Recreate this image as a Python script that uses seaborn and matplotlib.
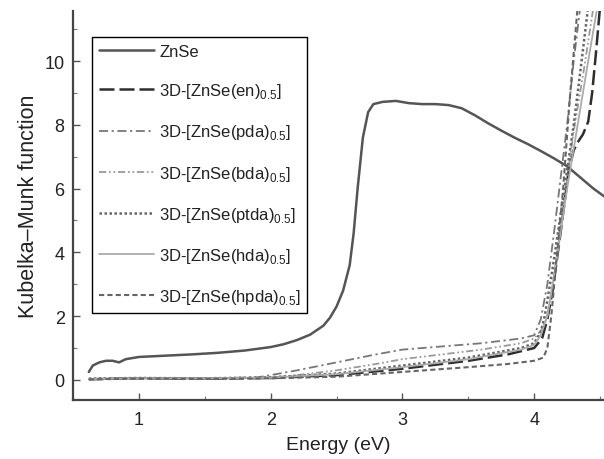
import numpy as np
import pandas as pd
import matplotlib
matplotlib.use("Agg")
import matplotlib.pyplot as plt
import seaborn as sns

# ---------------- data ----------------
znse_x = [0.62, 0.65, 0.70, 0.75, 0.80, 0.85, 0.90, 1.00, 1.20, 1.40, 1.60, 1.80, 2.00, 2.10,
          2.20, 2.30, 2.40, 2.45, 2.50, 2.55, 2.60, 2.63, 2.66, 2.70, 2.74, 2.78, 2.85, 2.95,
          3.05, 3.15, 3.25, 3.35, 3.45, 3.55, 3.65, 3.75, 3.85, 3.95, 4.05, 4.15, 4.25, 4.35,
          4.45, 4.55]
znse_y = [0.25, 0.45, 0.55, 0.60, 0.60, 0.55, 0.65, 0.72, 0.76, 0.80, 0.85, 0.92, 1.03, 1.12,
          1.25, 1.42, 1.70, 1.95, 2.30, 2.80, 3.60, 4.60, 6.00, 7.60, 8.40, 8.65, 8.72, 8.75,
          8.68, 8.65, 8.65, 8.62, 8.52, 8.30, 8.05, 7.82, 7.60, 7.40, 7.18, 6.95, 6.70, 6.35,
          6.00, 5.70]

en_x = [0.62, 1.00, 1.50, 2.00, 2.50, 3.00, 3.50, 3.80, 4.00, 4.06, 4.10, 4.14, 4.20, 4.26,
        4.30, 4.33, 4.37, 4.41, 4.44, 4.47, 4.50]
en_y = [0.02, 0.05, 0.04, 0.06, 0.15, 0.35, 0.60, 0.80, 1.00, 1.30, 1.90, 2.80, 4.60, 6.50,
        7.20, 7.45, 7.70, 8.10, 9.00, 10.3, 11.7]

pda_x = [0.62, 1.00, 1.50, 1.90, 2.00, 2.20, 2.50, 2.80, 3.00, 3.30, 3.60, 3.90, 4.00, 4.05,
         4.10, 4.15, 4.20, 4.25, 4.30, 4.35]
pda_y = [0.02, 0.06, 0.05, 0.08, 0.15, 0.30, 0.55, 0.80, 0.95, 1.05, 1.15, 1.30, 1.40, 1.90,
         3.00, 4.60, 6.30, 8.00, 10.0, 11.7]

bda_x = [0.62, 1.00, 1.50, 2.00, 2.20, 2.50, 2.80, 3.00, 3.30, 3.60, 3.90, 4.00, 4.06, 4.10,
         4.16, 4.24, 4.30, 4.38, 4.45]
bda_y = [0.03, 0.05, 0.05, 0.07, 0.15, 0.30, 0.50, 0.65, 0.80, 0.95, 1.15, 1.30, 1.60, 2.00,
         3.50, 6.00, 7.80, 9.80, 11.7]

ptda_x = [0.62, 1.00, 1.50, 2.00, 2.50, 3.00, 3.50, 3.90, 4.00, 4.05, 4.08, 4.14, 4.23, 4.30,
          4.36, 4.41]
ptda_y = [0.04, 0.06, 0.05, 0.08, 0.20, 0.45, 0.70, 1.00, 1.15, 1.50, 2.00, 3.50, 6.00, 8.00,
          10.0, 11.7]

hda_x = [0.62, 1.00, 1.50, 2.00, 2.50, 3.00, 3.50, 3.90, 4.00, 4.05, 4.10, 4.16, 4.25, 4.33,
         4.41, 4.48]
hda_y = [0.03, 0.05, 0.05, 0.07, 0.18, 0.40, 0.65, 0.95, 1.10, 1.40, 2.00, 3.50, 6.00, 8.00,
         10.0, 11.7]

hpda_x = [0.62, 1.00, 1.50, 2.00, 2.50, 3.00, 3.50, 3.80, 4.00, 4.07, 4.10, 4.13, 4.17, 4.22,
          4.27, 4.33]
hpda_y = [0.02, 0.04, 0.03, 0.05, 0.10, 0.25, 0.40, 0.50, 0.60, 0.70, 1.00, 2.00, 3.80, 6.00,
          8.80, 11.7]

labels = ["ZnSe",
          r"3D-[ZnSe(en)$_{\mathregular{0.5}}$]",
          r"3D-[ZnSe(pda)$_{\mathregular{0.5}}$]",
          r"3D-[ZnSe(bda)$_{\mathregular{0.5}}$]",
          r"3D-[ZnSe(ptda)$_{\mathregular{0.5}}$]",
          r"3D-[ZnSe(hda)$_{\mathregular{0.5}}$]",
          r"3D-[ZnSe(hpda)$_{\mathregular{0.5}}$]"]
xs = [znse_x, en_x, pda_x, bda_x, ptda_x, hda_x, hpda_x]
ys = [znse_y, en_y, pda_y, bda_y, ptda_y, hda_y, hpda_y]

x_ticks = [1, 2, 3, 4]
y_ticks = [0, 2, 4, 6, 8, 10]

# ---------------- styling ----------------
sns.set_theme(style="ticks")
plt.rcParams["font.family"] = ["Liberation Sans", "DejaVu Sans"]
plt.rcParams["mathtext.fontset"] = "custom"
plt.rcParams["mathtext.rm"] = "Liberation Sans"

styles = [
    dict(color="#555555", lw=1.8, ls="-"),
    dict(color="#2e2e2e", lw=1.8, ls=(0, (6, 2))),
    dict(color="#777777", lw=1.3, ls=(0, (5, 2, 1.2, 2))),
    dict(color="#9a9a9a", lw=1.3, ls=(0, (4, 1.5, 1, 1.5, 1, 1.5))),
    dict(color="#666666", lw=1.8, ls=(0, (1, 1))),
    dict(color="#ababab", lw=1.3, ls="-"),
    dict(color="#666666", lw=1.5, ls=(0, (2.5, 1.5))),
]

fig = plt.figure(figsize=(6.04, 4.60), dpi=100)
ax = fig.add_axes([73 / 604, 59 / 460, 531 / 604, 389 / 460])

for x, y, lab, st in zip(xs, ys, labels, styles):
    df = pd.DataFrame({"x": x, "y": y})
    sns.lineplot(data=df, x="x", y="y", ax=ax, estimator=None, sort=False,
                 color=st["color"], linewidth=st["lw"], linestyle=st["ls"], label=lab)

ax.set_xlim(0.525, 4.53)
ax.set_ylim(-0.63, 11.57)
ax.set_xticks(x_ticks)
ax.set_yticks(y_ticks)
ax.set_xticks(np.arange(0.5, 4.6, 0.5), minor=True)
ax.set_yticks(np.arange(-0.0, 11.6, 1.0), minor=True)
ax.tick_params(which="major", direction="in", length=5, width=1.0, color="#555555",
               labelsize=13, pad=6, labelcolor="#222222")
ax.tick_params(which="minor", direction="in", length=3, width=0.8, color="#777777")
ax.tick_params(axis="x", pad=8)

for side in ["top", "right"]:
    ax.spines[side].set_visible(False)
for side in ["left", "bottom"]:
    ax.spines[side].set_color("#444444")
    ax.spines[side].set_linewidth(1.6)

ax.set_xlabel("Energy (eV)", fontsize=14, color="#222222", labelpad=6)
ax.set_ylabel("Kubelka–Munk function", fontsize=15.5, color="#222222", labelpad=4)

leg = ax.legend(loc="upper left", bbox_to_anchor=(19 / 531, 363 / 389), borderaxespad=0,
                fontsize=12, frameon=True, fancybox=False, framealpha=1,
                edgecolor="black", handlelength=3.3, handletextpad=0.3,
                labelspacing=1.33, borderpad=0.42)
leg.get_frame().set_linewidth(1.0)
for t in leg.get_texts():
    t.set_color("#222222")

fig.savefig("out.png", dpi=100)
